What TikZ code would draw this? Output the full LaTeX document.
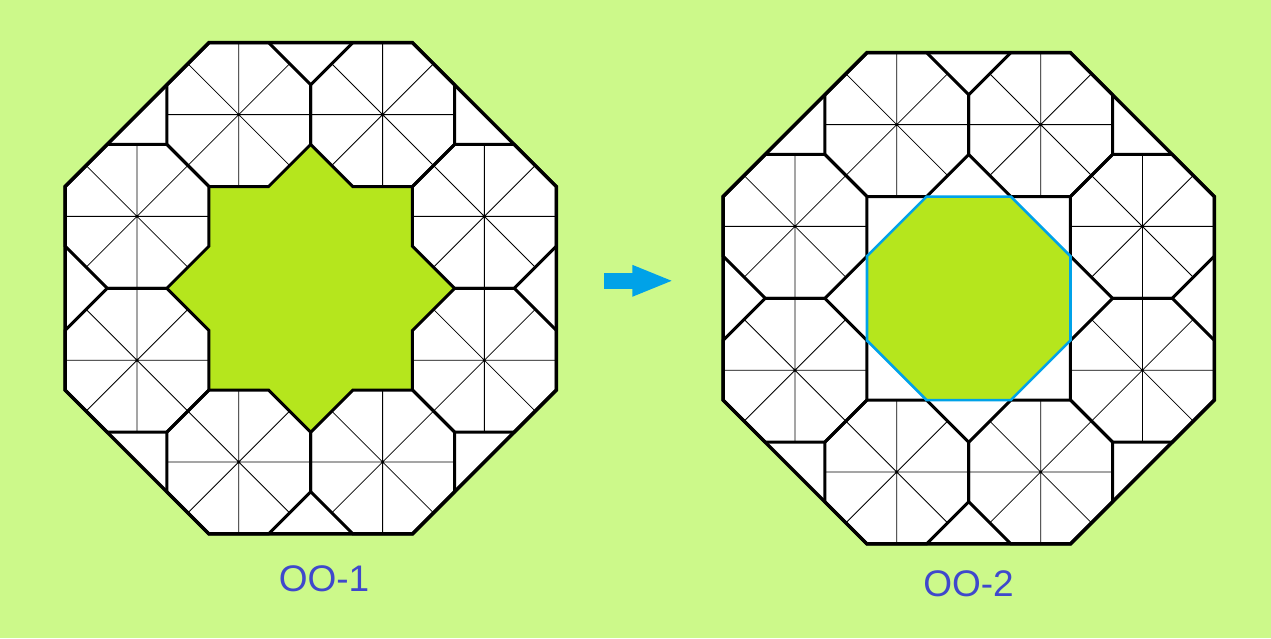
\documentclass[tikz,border=0pt]{standalone}
\usepackage{fontspec}
\setmainfont{Liberation Sans}
\usetikzlibrary{arrows.meta}
\definecolor{bg}{RGB}{204,249,138}
\definecolor{lime}{RGB}{181,230,29}
\definecolor{cyanblue}{RGB}{0,162,232}
\definecolor{indigo}{RGB}{63,72,204}
\tikzset{
  cellline/.style={line width=0.8pt, black},
  celledge/.style={line width=3pt, black},
  outeredge/.style={line width=3.4pt, black},
  labeltext/.style={text=indigo, inner sep=0pt, font=\fontsize{37}{40}\selectfont},
}
\newcommand\outeroct{(-1.7071,4.1213)--(1.7071,4.1213)--(4.1213,1.7071)--(4.1213,-1.7071)--(1.7071,-4.1213)--(-1.7071,-4.1213)--(-4.1213,-1.7071)--(-4.1213,1.7071)--cycle}
\newcommand\cellring{%
  \foreach \cx/\cy in {-1.2071/2.9142, 1.2071/2.9142, 2.9142/1.2071, 2.9142/-1.2071, 1.2071/-2.9142, -1.2071/-2.9142, -2.9142/-1.2071, -2.9142/1.2071}{
    \begin{scope}[shift={(\cx,\cy)}]
      \draw[cellline] (-1.2071,0)--(1.2071,0) (0,-1.2071)--(0,1.2071)
        (-0.8536,-0.8536)--(0.8536,0.8536) (-0.8536,0.8536)--(0.8536,-0.8536);
      \draw[celledge] (-0.5,1.2071)--(0.5,1.2071)--(1.2071,0.5)--(1.2071,-0.5)--(0.5,-1.2071)--(-0.5,-1.2071)--(-1.2071,-0.5)--(-1.2071,0.5)--cycle;
    \end{scope}
  }
  \draw[outeredge] \outeroct;
}
\begin{document}
\begin{tikzpicture}[x=1pt,y=1pt]
  \useasboundingbox (0,0) rectangle (1271,-638);
  \fill[bg] (0,0) rectangle (1271,-638);
  % left figure OO-1
  \begin{scope}[shift={(310.7pt,-288.3pt)}, x=59.6pt, y=59.6pt]
    \fill[white] \outeroct;
    \fill[lime] (0,2.4142)--(0.7071,1.7071)--(1.7071,1.7071)--(1.7071,0.7071)--(2.4142,0)--(1.7071,-0.7071)--(1.7071,-1.7071)--(0.7071,-1.7071)--(0,-2.4142)--(-0.7071,-1.7071)--(-1.7071,-1.7071)--(-1.7071,-0.7071)--(-2.4142,0)--(-1.7071,0.7071)--(-1.7071,1.7071)--(-0.7071,1.7071)--cycle;
    \cellring
  \end{scope}
  % right figure OO-2
  \begin{scope}[shift={(968.7pt,-298.3pt)}, x=59.6pt, y=59.6pt]
    \fill[white] \outeroct;
    \cellring
    \filldraw[fill=lime, draw=cyanblue, line width=2.6pt] (-0.7071,1.7071)--(0.7071,1.7071)--(1.7071,0.7071)--(1.7071,-0.7071)--(0.7071,-1.7071)--(-0.7071,-1.7071)--(-1.7071,-0.7071)--(-1.7071,0.7071)--cycle;
  \end{scope}
  % arrow
  \coordinate (arrowstart) at (604,-280.8);
  \coordinate (arrowend) at (674,-280.8);
  \draw[cyanblue, line width=16.3pt, -{Triangle[length=41.7pt,width=28.3pt]}] (arrowstart) -- (arrowend);
  % labels
  \node[labeltext] (lab1) at (324,-579) {OO-1};
  \node[labeltext] (lab2) at (968.5,-584) {OO-2};
\end{tikzpicture}
\end{document}
